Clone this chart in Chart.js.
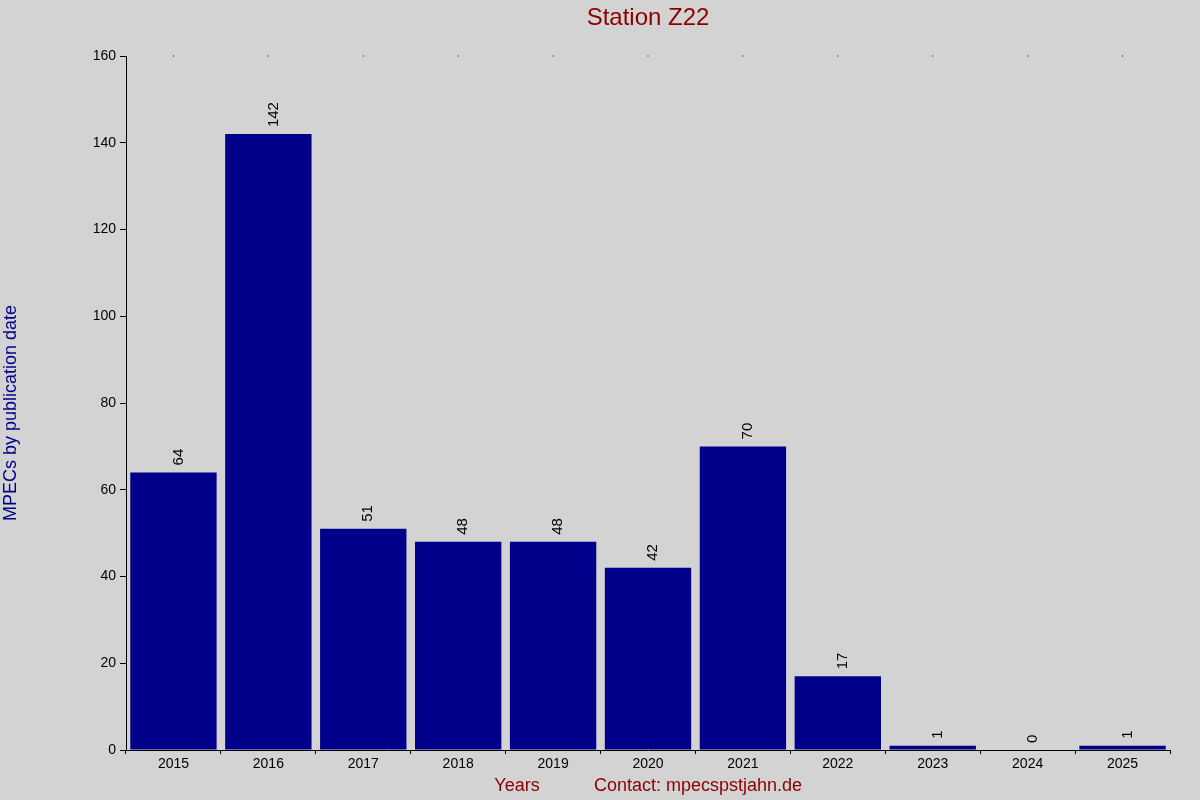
<!DOCTYPE html>
<html><head><meta charset="utf-8">
<script src="https://cdn.jsdelivr.net/npm/chart.js@4"></script>
<style>html,body{margin:0;background:#d3d3d3}</style>
</head><body>
<canvas id="c" width="1200" height="800"></canvas>
<script>
const years = ["2015","2016","2017","2018","2019","2020","2021","2022","2023","2024","2025"];
const mpecs = [64,142,51,48,48,42,70,17,1,0,1];
const yTicks = [0,20,40,60,80,100,120,140,160];

const deco = {
  id:'deco',
  afterDatasetsDraw(chart){
    const ctx = chart.ctx, ca = chart.chartArea;
    const meta = chart.getDatasetMeta(0);
    ctx.save();
    ctx.font = '15px Arial'; ctx.fillStyle = '#000';
    meta.data.forEach((b,i)=>{
      ctx.save();
      ctx.translate(b.x+5, b.y-7);
      ctx.rotate(-Math.PI/2);
      ctx.textAlign='left'; ctx.textBaseline='middle';
      ctx.fillText(String(mpecs[i]),0,0);
      ctx.restore();
      ctx.fillRect(b.x-0.5, ca.top-0.5, 1, 1);
    });
    ctx.fillStyle='#8b0000'; ctx.textAlign='center'; ctx.textBaseline='middle';
    ctx.font='24px Arial';
    ctx.fillText('Station Z22',(ca.left+ca.right)/2,18);
    ctx.font='18px Arial';
    ctx.fillText('Years',517,786);
    ctx.fillText('Contact: mpecspstjahn.de',698,786);
    ctx.save();
    ctx.translate(11,(ca.top+ca.bottom)/2+10);
    ctx.rotate(-Math.PI/2);
    ctx.fillStyle='#00008b';
    ctx.fillText('MPECs by publication date',0,0);
    ctx.restore();
    ctx.restore();
  }
};

new Chart(document.getElementById('c'),{
  type:'bar',
  data:{labels:years,datasets:[{data:mpecs,backgroundColor:'#00008b',barPercentage:0.91,categoryPercentage:1}]},
  options:{
    responsive:false,animation:false,
    layout:{padding:{left:0,top:56,right:30,bottom:0}},
    plugins:{legend:{display:false},tooltip:{enabled:false}},
    scales:{
      x:{
        grid:{display:true,drawOnChartArea:false,tickLength:4,color:'#000'},
        border:{color:'#000'},
        ticks:{color:'#000',font:{family:'Arial',size:14},padding:2},
        afterFit(s){s.height=50;}
      },
      y:{
        min:0,max:160,
        afterBuildTicks(s){s.ticks=yTicks.map(v=>({value:v}));},
        grid:{display:true,drawOnChartArea:false,tickLength:6,color:'#000'},
        border:{color:'#000'},
        ticks:{color:'#000',font:{family:'Arial',size:14},padding:4},
        afterFit(s){s.width=126;}
      }
    }
  },
  plugins:[deco]
});
</script>
</body></html>
